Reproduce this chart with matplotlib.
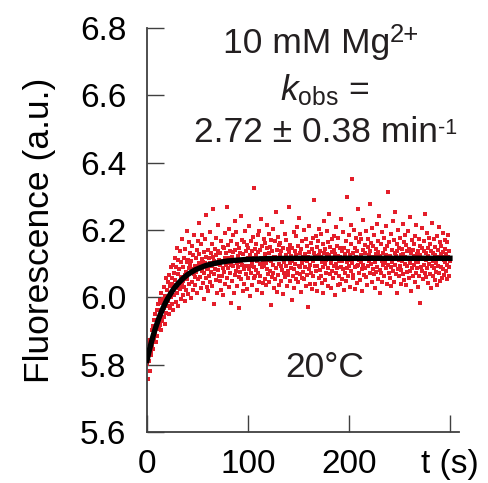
import numpy as np
import matplotlib
matplotlib.use("Agg")
import matplotlib.pyplot as plt

plt.rcParams['font.family'] = ['Liberation Sans', 'DejaVu Sans']
plt.rcParams['mathtext.fontset'] = 'custom'
plt.rcParams['mathtext.rm'] = 'Liberation Sans'
plt.rcParams['mathtext.it'] = 'Liberation Sans:italic'

# fluorescence readings, one every 0.4 s from t = 0 to 300 s
fluor = [
    5.802, 5.835, 5.758, 5.829, 5.861, 5.811, 5.874, 5.781, 5.853, 5.842,
    5.871, 5.829, 5.902, 5.858, 5.915, 5.846, 5.889, 5.932, 5.873, 5.901,
    5.893, 5.951, 5.912, 5.868, 5.963, 5.927, 5.884, 5.979, 5.934, 5.906,
    5.962, 5.918, 5.991, 5.947, 5.903, 6.012, 5.958, 5.929, 5.984, 5.941,
    5.995, 5.942, 6.031, 5.968, 5.921, 6.004, 5.987, 6.058, 5.953, 5.996,
    6.021, 5.973, 6.046, 5.988, 6.067, 5.951, 6.012, 6.035, 5.969, 6.089,
    6.002, 6.058, 5.981, 6.041, 6.097, 5.962, 6.027, 6.073, 6.008, 6.118,
    6.052, 5.987, 6.091, 6.036, 6.148, 6.013, 5.974, 6.069, 6.112, 6.027,
    6.083, 6.024, 6.139, 5.995, 6.061, 6.104, 6.037, 6.172, 6.049, 6.008,
    6.091, 6.032, 6.118, 6.065, 5.989, 6.143, 6.076, 6.021, 6.105, 6.198,
    6.054, 6.112, 6.009, 6.087, 6.163, 6.041, 6.096, 6.131, 5.998, 6.072,
    6.109, 6.046, 6.152, 6.083, 6.021, 6.127, 6.068, 6.184, 6.059, 6.094,
    6.036, 6.118, 6.075, 6.141, 6.012, 6.089, 6.167, 6.053, 6.102, 6.221,
    6.128, 6.061, 6.094, 6.157, 6.027, 6.113, 6.079, 6.186, 6.042, 6.104,
    6.071, 6.135, 5.996, 6.101, 6.172, 6.058, 6.119, 6.246, 6.083, 6.031,
    6.142, 6.088, 6.019, 6.116, 6.063, 6.195, 6.102, 6.047, 6.131, 6.076,
    6.093, 6.158, 6.034, 6.121, 6.262, 6.069, 6.107, 5.981, 6.144, 6.085,
    6.127, 6.052, 6.176, 6.098, 6.013, 6.139, 6.081, 6.214, 6.064, 6.112,
    6.049, 6.133, 6.097, 6.168, 6.023, 6.109, 6.062, 6.151, 6.088, 6.007,
    6.146, 6.074, 6.118, 6.039, 6.192, 6.096, 6.131, 6.057, 6.269, 6.103,
    6.087, 6.154, 6.031, 6.118, 6.203, 6.072, 6.139, 5.982, 6.096, 6.167,
    6.121, 6.048, 6.185, 6.093, 6.136, 6.014, 6.109, 6.227, 6.066, 6.142,
    6.078, 6.193, 6.101, 6.034, 6.158, 6.089, 6.124, 5.969, 6.147, 6.061,
    6.132, 6.074, 6.241, 6.106, 6.053, 6.171, 6.097, 6.018, 6.129, 6.085,
    6.163, 6.041, 6.112, 6.198, 6.069, 6.137, 6.092, 6.026, 6.154, 6.117,
    6.058, 6.146, 6.083, 6.211, 6.127, 6.004, 6.094, 6.168, 6.072, 6.139,
    6.103, 6.036, 6.179, 6.118, 6.057, 6.326, 6.091, 6.143, 6.064, 6.126,
    6.082, 6.157, 6.021, 6.109, 6.185, 6.071, 6.134, 6.047, 6.196, 6.098,
    6.141, 6.063, 6.117, 6.232, 6.089, 6.012, 6.152, 6.106, 6.043, 6.174,
    6.093, 6.128, 6.055, 6.161, 6.101, 6.037, 6.216, 6.084, 6.147, 6.069,
    6.112, 6.188, 6.046, 6.133, 6.079, 6.151, 5.978, 6.107, 6.171, 6.061,
    6.138, 6.072, 6.204, 6.096, 6.029, 6.121, 6.166, 6.053, 6.119, 6.253,
    6.086, 6.142, 6.017, 6.114, 6.179, 6.067, 6.098, 6.155, 6.038, 6.126,
    6.161, 6.094, 6.048, 6.137, 6.224, 6.081, 6.115, 6.009, 6.148, 6.073,
    6.104, 6.189, 6.059, 6.126, 6.092, 6.171, 6.035, 6.118, 6.066, 6.143,
    6.077, 6.135, 6.268, 6.101, 6.049, 6.156, 6.088, 6.123, 5.991, 6.109,
    6.146, 6.062, 6.117, 6.194, 6.083, 6.027, 6.139, 6.098, 6.181, 6.054,
    6.125, 6.208, 6.071, 6.113, 6.046, 6.152, 6.094, 6.236, 6.068, 6.131,
    6.089, 6.017, 6.144, 6.102, 6.167, 6.058, 6.121, 6.076, 6.199, 6.112,
    6.053, 6.129, 6.091, 6.174, 6.035, 6.108, 6.152, 6.067, 6.119, 5.972,
    6.136, 6.084, 6.213, 6.097, 6.041, 6.162, 6.118, 6.073, 6.145, 6.026,
    6.108, 6.176, 6.062, 6.131, 6.289, 6.094, 6.039, 6.122, 6.181, 6.077,
    6.149, 6.093, 6.018, 6.115, 6.168, 6.056, 6.127, 6.204, 6.081, 6.139,
    6.064, 6.121, 6.187, 6.043, 6.106, 6.159, 6.091, 6.014, 6.133, 6.226,
    6.098, 6.052, 6.143, 6.112, 6.071, 6.196, 6.128, 6.033, 6.164, 6.087,
    6.125, 6.247, 6.069, 6.117, 6.151, 6.028, 6.103, 6.172, 6.079, 6.136,
    6.057, 6.114, 6.183, 6.092, 6.141, 6.006, 6.128, 6.071, 6.209, 6.099,
    6.153, 6.086, 6.037, 6.124, 6.176, 6.062, 6.107, 6.148, 6.041, 6.119,
    6.091, 6.232, 6.109, 6.055, 6.137, 6.083, 6.194, 6.117, 6.021, 6.146,
    6.072, 6.129, 6.166, 6.048, 6.104, 6.298, 6.087, 6.139, 6.063, 6.112,
    6.185, 6.094, 6.031, 6.127, 6.158, 6.079, 6.214, 6.101, 6.352, 6.066,
    6.133, 6.058, 6.116, 6.201, 6.089, 6.147, 6.024, 6.121, 6.176, 6.093,
    6.044, 6.138, 6.261, 6.097, 6.163, 6.071, 6.112, 6.188, 6.052, 6.127,
    6.105, 6.172, 6.083, 6.019, 6.141, 6.096, 6.229, 6.118, 6.067, 6.154,
    6.088, 6.131, 6.197, 6.061, 6.114, 6.037, 6.149, 6.092, 6.173, 6.108,
    6.126, 6.278, 6.073, 6.139, 6.098, 6.161, 6.046, 6.119, 6.205, 6.084,
    6.152, 6.068, 6.117, 6.184, 6.029, 6.106, 6.143, 6.075, 6.128, 6.219,
    6.091, 6.136, 6.054, 6.167, 6.113, 6.242, 6.082, 6.012, 6.124, 6.158,
    6.073, 6.109, 6.193, 6.047, 6.131, 6.095, 6.176, 6.118, 6.063, 6.144,
    6.101, 6.211, 6.086, 6.127, 6.039, 6.153, 6.097, 6.312, 6.072, 6.115,
    6.164, 6.058, 6.122, 6.089, 6.187, 6.034, 6.141, 6.106, 6.226, 6.079,
    6.118, 6.171, 6.045, 6.133, 6.096, 6.254, 6.068, 6.124, 6.159, 6.013,
    6.137, 6.084, 6.199, 6.111, 6.062, 6.148, 6.093, 6.176, 6.041, 6.126,
    6.082, 6.143, 6.107, 6.218, 6.069, 6.129, 6.051, 6.165, 6.098, 6.184,
    6.121, 6.036, 6.154, 6.092, 6.137, 6.076, 6.196, 6.113, 6.058, 6.145,
    6.103, 6.238, 6.077, 6.131, 6.019, 6.116, 6.169, 6.088, 6.142, 6.064,
    6.157, 6.095, 6.122, 6.047, 6.181, 6.109, 6.073, 6.214, 6.128, 6.086,
    6.031, 6.139, 6.104, 6.173, 6.062, 6.126, 5.982, 6.152, 6.091, 6.118,
    6.146, 6.079, 6.205, 6.113, 6.054, 6.137, 6.096, 6.168, 6.071, 6.249,
    6.112, 6.061, 6.133, 6.087, 6.192, 6.124, 6.042, 6.148, 6.099, 6.176,
    6.069, 6.157, 6.115, 6.028, 6.138, 6.093, 6.221, 6.107, 6.064, 6.131,
    6.174, 6.086, 6.125, 6.051, 6.149, 6.102, 6.076, 6.183, 6.119, 6.037,
    6.094, 6.141, 6.208, 6.072, 6.117, 6.163, 6.048, 6.129, 6.089, 6.152,
    6.121, 6.058, 6.136, 6.192, 6.083, 6.111, 6.067, 6.171, 6.104, 6.143,
    6.077, 6.128, 6.055, 6.164, 6.096, 6.119, 6.184, 6.062, 6.138, 6.091,
    6.108,
]
time_s = np.arange(len(fluor)) * 0.4

# fitted single-exponential curve
fit_t = [0, 2, 4, 6, 8, 10, 12, 14, 16, 18, 20, 22, 24, 26, 28, 30, 32, 34, 36, 38,
         40, 44, 48, 52, 56, 60, 70, 80, 100, 120, 150, 300]
fit_y = [5.813, 5.839, 5.863, 5.885, 5.905, 5.923, 5.940, 5.955, 5.969, 5.982,
         5.994, 6.004, 6.014, 6.023, 6.031, 6.038, 6.045, 6.051, 6.057, 6.062,
         6.067, 6.075, 6.082, 6.087, 6.092, 6.096, 6.103, 6.108, 6.113, 6.115,
         6.116, 6.116]

xticks = [0, 100, 200, 300]
xticklabels = ['0', '100', '200', 't (s)']
yticks = [5.6, 5.8, 6.0, 6.2, 6.4, 6.6, 6.8]

W, H = 489, 483
TXT = '#231f20'

fig = plt.figure(figsize=(W / 100, H / 100), dpi=100)
ax = fig.add_axes([0.3006, 0.1056, 0.638, 0.8364])

ax.plot(time_s, fluor, 's', color='#e41e2a', markersize=2.2, markeredgewidth=0, zorder=2)
ax.plot(fit_t, fit_y, '-', color='black', lw=3.9, zorder=3)

ax.set_xlim(0, 309)
ax.set_ylim(5.6, 6.8)
ax.set_xticks(xticks)
ax.set_xticklabels(xticklabels)
ax.set_yticks(yticks)
ax.set_yticklabels(['%.1f' % v for v in yticks])

for s in ['top', 'right']:
    ax.spines[s].set_visible(False)
for s in ['left', 'bottom']:
    ax.spines[s].set_color('#404040')
    ax.spines[s].set_linewidth(1.3)

ax.tick_params(direction='in', length=12.5, width=1.0, color='#404040',
               labelsize=24, labelcolor='black')
ax.tick_params(axis='y', pad=15)
ax.tick_params(axis='x', pad=12)

ax.set_ylabel('Fluorescence (a.u.)', fontsize=25.5, labelpad=17)

renderer = fig.canvas.get_renderer()


def rich_text(xc, ybase, parts):
    # parts: (text, fontsize, raise in px); centred on xc, baseline at ybase (px from top)
    items = []
    for s, size, dy in parts:
        t = fig.text(0, 0, s, fontsize=size, ha='left', va='baseline', color=TXT)
        items.append((t, t.get_window_extent(renderer).width, dy))
    x = xc - sum(w for _, w, _ in items) / 2
    for t, w, dy in items:
        t.set_position((x / W, (H - ybase + dy) / H))
        x += w


rich_text(321, 53, [('10 mM Mg', 25.5, 0), ('2+', 18.5, 11)])
rich_text(325, 100, [('$k_{\\mathrm{obs}}$ =', 25.5, 0)])
rich_text(326, 142, [('2.72 \u00b1 0.38 min', 25.5, 0), ('-1', 15.5, 8)])
rich_text(325, 377, [('20\u00b0C', 25.5, 0)])

fig.savefig('out.png', dpi=100)
